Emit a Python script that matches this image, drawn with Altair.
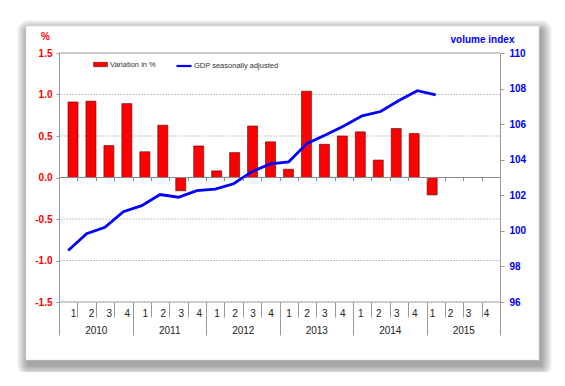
import altair as alt
import pandas as pd

# ---- data ----
years = ["2010", "2011", "2012", "2013", "2014", "2015"]
quarter_labels = ["1", "2", "3", "4"]
variation = [0.91, 0.92, 0.385, 0.89, 0.31, 0.63, -0.16, 0.38, 0.08, 0.30,
             0.62, 0.43, 0.10, 1.04, 0.40, 0.50, 0.55, 0.21, 0.59, 0.53, -0.21]
gdp_index = [98.9, 99.84, 100.2, 101.08, 101.42, 102.04, 101.89, 102.26, 102.35,
             102.65, 103.33, 103.76, 103.88, 104.92, 105.39, 105.9, 106.47,
             106.71, 107.33, 107.88, 107.65]
left_ticks = [-1.5, -1.0, -0.5, 0.0, 0.5, 1.0, 1.5]
grid_values = [-1.0, -0.5, 0.5, 1.0]
right_ticks = [96, 98, 100, 102, 104, 106, 108, 110]

n_slots = len(years) * 4
FONT = "Liberation Sans"
RED = "#ff0000"
BLUE = "#0000ff"
GRAY = "#9a9a9a"

bars_df = pd.DataFrame({
    "pos": [i + 0.5 for i in range(len(variation))],
    "variation": variation,
    "series": "Variation in %",
})
line_df = pd.DataFrame({
    "pos": [i + 0.5 for i in range(len(gdp_index))],
    "index": gdp_index,
    "series": "GDP seasonally adjusted",
})
grid_df = pd.DataFrame({"g": grid_values})

xdom = alt.Scale(domain=[0, n_slots], nice=False, zero=False)
ydom = alt.Scale(domain=[-1.5, 1.5], nice=False, zero=False)
rdom = alt.Scale(domain=[96, 110], nice=False, zero=False)

one = alt.Data(values=[{"a": 1}])

# ---- frame with soft shadow ----
frame_layers = []
for i in range(1, 12):
    frame_layers.append(
        alt.Chart(one).mark_rect(fill="black", opacity=0.035, cornerRadius=i).encode(
            x=alt.value(-33 - i + 2), x2=alt.value(480 + i + 2),
            y=alt.value(-27 - i + 5), y2=alt.value(307 + i + 5)))
frame_layers.append(
    alt.Chart(one).mark_rect(fill="white", stroke="#d8d8d8", strokeWidth=0.5).encode(
        x=alt.value(-33), x2=alt.value(480), y=alt.value(-27), y2=alt.value(307)))

# ---- dotted gridlines ----
grid = alt.Chart(grid_df).mark_rule(
    color="#a0a0a0", strokeDash=[1.5, 1.5], strokeWidth=0.8
).encode(
    y=alt.Y("g:Q", scale=ydom, axis=None),
)

# ---- bars (left axis, quarter labels) ----
quarter_expr = "'' + (floor(datum.value) % 4 + 1)"
bars = alt.Chart(bars_df).mark_bar(
    color=RED, stroke="#5a0000", strokeWidth=0.6, size=10
).encode(
    x=alt.X("pos:Q", scale=xdom, axis=alt.Axis(
        orient="bottom", zindex=1,
        values=[i + 0.5 for i in range(n_slots)], labelExpr=quarter_expr,
        ticks=False, tickSize=0, domain=False, grid=False, title=None,
        labelFont=FONT, labelFontSize=10, labelColor="#222",
        labelBaseline="middle", labelPadding=11)),
    y=alt.Y("variation:Q", scale=ydom, axis=alt.Axis(
        orient="left", zindex=1, values=left_ticks,
        labelExpr="replace(format(datum.value, '.1f'), '\u2212', '-')",
        labelColor=RED, labelFontWeight="bold", labelFont=FONT, labelFontSize=10,
        labelPadding=4, tickSize=3, tickColor=GRAY, domainColor=GRAY,
        grid=False,
        title="%", titleAngle=0, titleX=-14, titleY=-17, titleAlign="center",
        titleBaseline="middle", titleColor=RED, titleFont=FONT,
        titleFontSize=10, titleFontWeight="bold")),
    color=alt.Color("series:N", scale=alt.Scale(range=[RED]), legend=alt.Legend(
        orient="none", legendX=34, legendY=4, title=None, padding=0,
        symbolType="M-1,-0.32H1V0.32H-1Z", symbolSize=196,
        symbolStrokeColor="#5a0000", symbolStrokeWidth=0.5,
        labelFont=FONT, labelFontSize=7.5, labelColor="#333", labelOffset=2)),
)

# ---- bottom border with year labels ----
year_expr = "'' + (2010 + floor(datum.value / 4))"
bottom_rule = alt.Chart(one).mark_rule(color=GRAY, strokeWidth=1).encode(
    x=alt.X("x:Q", scale=xdom, axis=alt.Axis(
        orient="bottom", zindex=1,
        values=[2 + 4 * k for k in range(len(years))], labelExpr=year_expr,
        ticks=False, tickSize=0, domain=False, grid=False, title=None,
        labelFont=FONT, labelFontSize=10, labelColor="#222",
        labelBaseline="middle", labelPadding=28)),
    x2="x2:Q",
    y=alt.Y("y:Q", scale=ydom, axis=None),
).transform_calculate(x="0", x2=str(n_slots), y="-1.5")

# ---- zero line with small ticks ----
zero_rule = alt.Chart(one).mark_rule(color="#8a8a8a", strokeWidth=1).encode(
    x=alt.X("x:Q", scale=xdom, axis=alt.Axis(
        orient="bottom", zindex=1,
        values=list(range(1, n_slots)), labels=False, domain=False, grid=False,
        ticks=True, tickSize=3, tickColor="#8a8a8a", offset=-124.5, title=None)),
    x2="x2:Q",
    y=alt.Y("y:Q", scale=ydom, axis=None),
).transform_calculate(x="0", x2=str(n_slots), y="0")

# ---- top border with quarter separators ----
top_rule = alt.Chart(one).mark_rule(color=GRAY, strokeWidth=1).encode(
    x=alt.X("x:Q", scale=xdom, axis=alt.Axis(
        orient="bottom", zindex=1,
        values=list(range(0, n_slots + 1)), labels=False, domain=False, grid=False,
        ticks=True, tickSize=15, tickColor=GRAY, title=None)),
    x2="x2:Q",
    y=alt.Y("y:Q", scale=ydom, axis=None),
).transform_calculate(x="0", x2=str(n_slots), y="1.5")

# ---- GDP line (right axis, year separators) ----
line = alt.Chart(line_df).mark_line(color=BLUE, strokeWidth=2.8).encode(
    x=alt.X("pos:Q", scale=xdom, axis=alt.Axis(
        orient="bottom", zindex=1,
        values=list(range(0, n_slots + 1, 4)), labels=False, domain=False,
        grid=False, ticks=True, tickSize=33, tickColor=GRAY, title=None)),
    y=alt.Y("index:Q", scale=rdom, axis=alt.Axis(
        orient="right", zindex=1, values=right_ticks, format="d",
        labelColor=BLUE, labelFontWeight="bold", labelFont=FONT, labelFontSize=10,
        labelPadding=5, tickSize=4, tickColor=GRAY, domainColor=GRAY, grid=False,
        title="volume index", titleAngle=0, titleX=-18, titleY=-14,
        titleAlign="center", titleBaseline="middle", titleColor=BLUE,
        titleFont=FONT, titleFontSize=10, titleFontWeight="bold")),
    stroke=alt.Stroke("series:N", scale=alt.Scale(range=[BLUE]), legend=alt.Legend(
        orient="none", legendX=116, legendY=4, title=None, padding=0,
        symbolType="stroke", symbolSize=225, symbolStrokeWidth=2.2,
        labelFont=FONT, labelFontSize=7.5, labelColor="#333", labelOffset=1)),
)

chart = alt.layer(
    *frame_layers, grid, bars, bottom_rule, zero_rule, top_rule, line
).resolve_scale(
    x="independent", y="independent", color="independent", stroke="independent"
).resolve_axis(
    x="independent", y="independent"
).properties(
    width=441, height=249,
    autosize=alt.AutoSizeParams(type="none"),
    padding={"left": 51, "top": 45, "right": 55, "bottom": 70},
).configure_view(stroke=None).configure(background="white")

chart.save("out.html", embed_options={"renderer": "svg", "actions": False})
